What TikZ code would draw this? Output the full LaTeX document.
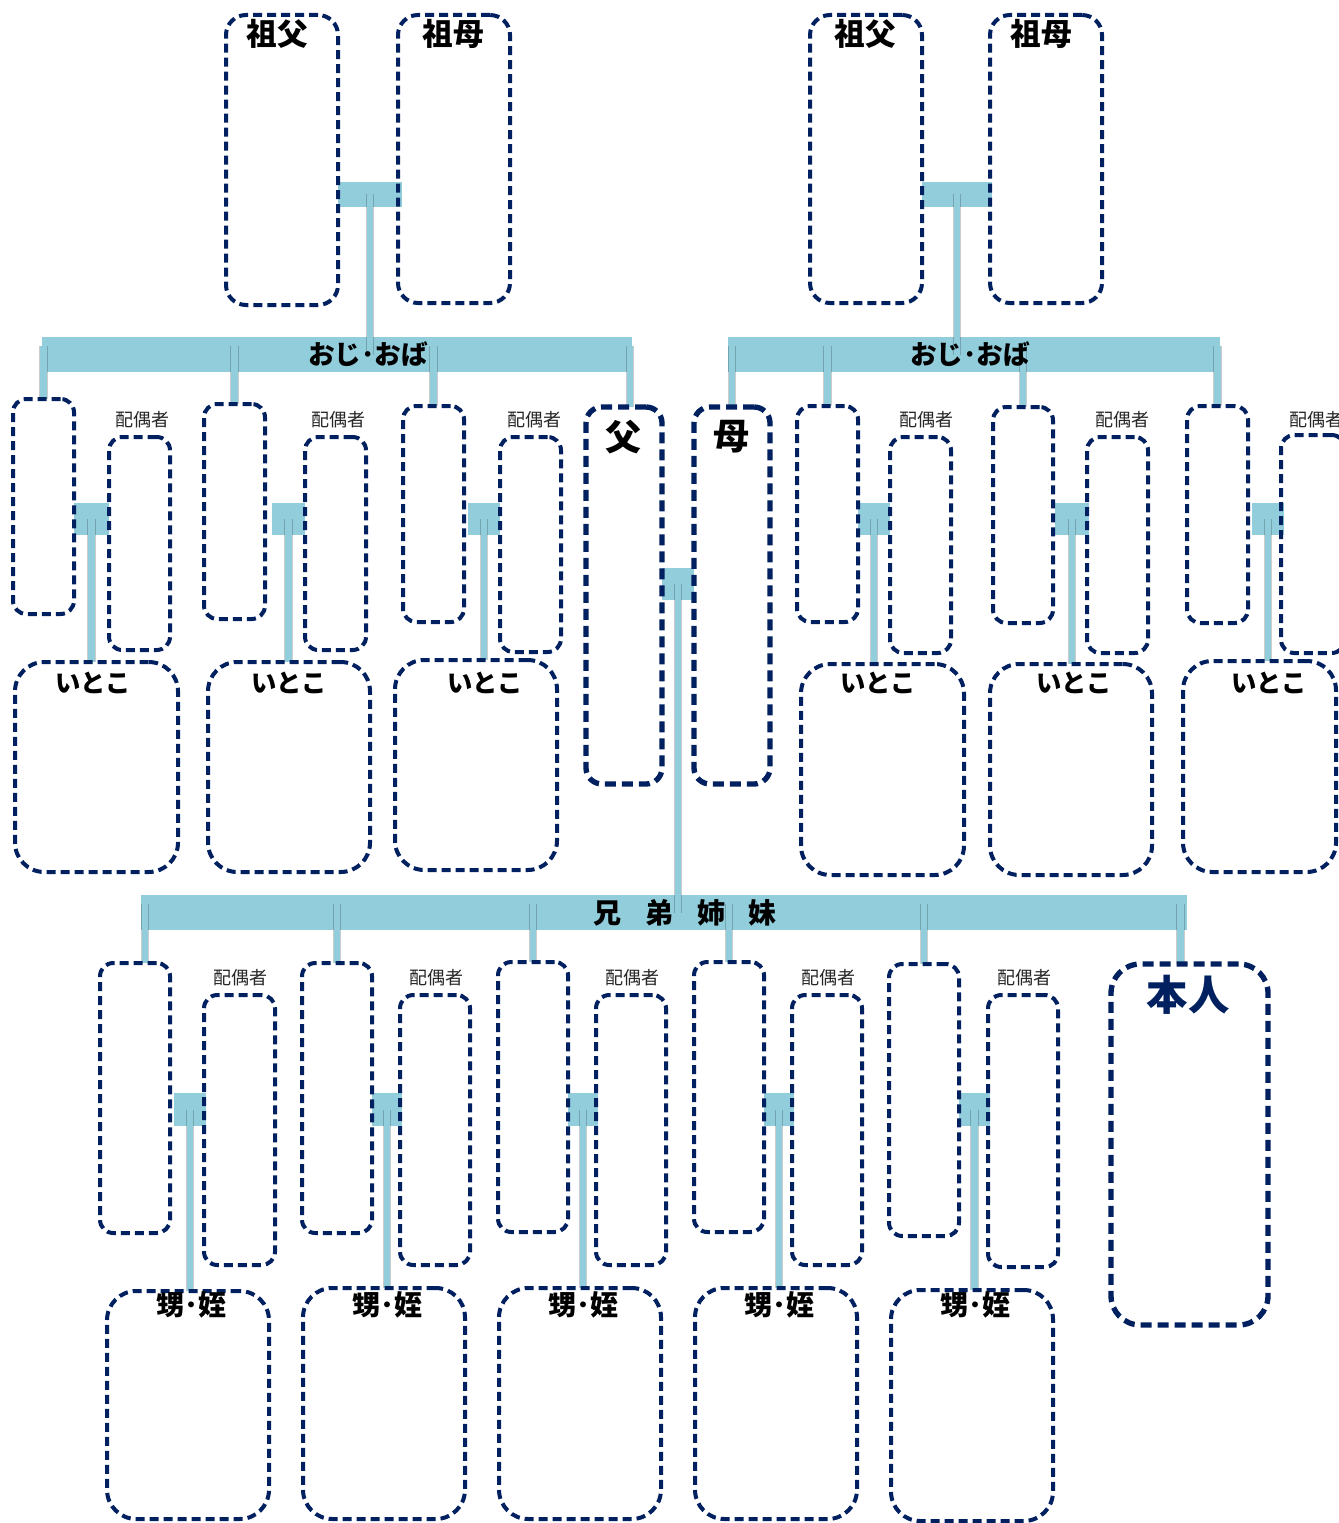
\documentclass[tikz,border=0pt]{standalone}
\usepackage{fontspec}
\setmainfont{Noto Sans CJK JP}
\usetikzlibrary{fit}
\definecolor{framenavy}{RGB}{0,32,96}
\definecolor{linkblue}{RGB}{146,205,220}
\pgfdeclarelayer{paper}
\pgfdeclarelayer{links}
\pgfsetlayers{paper,links,main}
\begin{document}
\begin{tikzpicture}[x=0.75pt,y=-0.75pt,
  pbox/.style={draw=framenavy, line width=3pt, dash pattern=on 6.75pt off 3.75pt,
               rounded corners=10pt, inner sep=0pt, outer sep=0pt},
  gpbox/.style={pbox, rounded corners=15pt},
  kidbox/.style={pbox, rounded corners=22pt},
  mainbox/.style={pbox, line width=4pt, dash pattern=on 8.25pt off 4.5pt, rounded corners=12pt},
  selfbox/.style={mainbox, rounded corners=22pt},
  linkbar/.style={fill=linkblue, inner sep=0pt, outer sep=0pt},
  conn/.style={draw=linkblue, line width=5pt,
               preaction={draw=black, draw opacity=0.2, line width=6.5pt}},
  lbl/.style={inner sep=0pt, font=\bfseries\fontsize{23pt}{26pt}\selectfont},
  barlbl/.style={inner sep=0pt, font=\bfseries\fontsize{20pt}{24pt}\selectfont},
  spouselbl/.style={inner sep=0pt, text=black!85, font=\fontsize{13.5pt}{16pt}\selectfont},
  kidlbl/.style={inner sep=0pt, font=\bfseries\fontsize{19pt}{22pt}\selectfont},
  parentlbl/.style={inner sep=0pt, font=\bfseries\fontsize{27pt}{30pt}\selectfont},
  selflbl/.style={inner sep=0pt, text=framenavy, font=\bfseries\fontsize{31pt}{34pt}\selectfont}
]
\begin{pgfonlayer}{paper}
  \fill[white] (0,0) rectangle (1338,1523);
\end{pgfonlayer}
\useasboundingbox (0,0) rectangle (1338,1523);

% ---------- grandparents ----------
\node[gpbox, fit={(226,15) (338,305)}] (gfL) {};
\node[gpbox, fit={(398,15) (510,303)}] (gmL) {};
\node[gpbox, fit={(810,15) (922,303)}] (gfR) {};
\node[gpbox, fit={(990,15) (1102,303)}] (gmR) {};

% ---------- uncles / aunts, spouses, cousins (father's side) ----------
\node[pbox, fit={(13,399) (74,614)}] (u1) {};
\node[pbox, fit={(204,404) (265,619)}] (u2) {};
\node[pbox, fit={(403,406) (464,622)}] (u3) {};
\node[pbox, fit={(109,437) (170,650)}] (s1) {};
\node[pbox, fit={(305,437) (366,650)}] (s2) {};
\node[pbox, fit={(500,437) (561,652)}] (s3) {};
\node[kidbox, fit={(15,662) (178,872)}] (c1) {};
\node[kidbox, fit={(208,662) (370,872)}] (c2) {};
\node[kidbox, fit={(395,660) (557,870)}] (c3) {};

% ---------- parents ----------
\node[mainbox, fit={(586,407) (662,784)}] (fa) {};
\node[mainbox, fit={(694,407) (770,784)}] (mo) {};

% ---------- uncles / aunts, spouses, cousins (mother's side) ----------
\node[pbox, fit={(797,406) (858,622)}] (u4) {};
\node[pbox, fit={(993,407) (1053,623)}] (u5) {};
\node[pbox, fit={(1187,406) (1248,623)}] (u6) {};
\node[pbox, fit={(890,437) (951,653)}] (s4) {};
\node[pbox, fit={(1087,437) (1148,653)}] (s5) {};
\node[pbox, fit={(1281,435) (1345,653)}] (s6) {};
\node[kidbox, fit={(801,664) (964,875)}] (c4) {};
\node[kidbox, fit={(990,664) (1152,875)}] (c5) {};
\node[kidbox, fit={(1183,661) (1336,872)}] (c6) {};

% ---------- siblings, spouses, nephews / nieces ----------
\node[pbox, fit={(100,963) (170,1233)}] (b1) {};
\node[pbox, fit={(302,963) (372,1233)}] (b2) {};
\node[pbox, fit={(498,962) (568,1232)}] (b3) {};
\node[pbox, fit={(694,962) (764,1232)}] (b4) {};
\node[pbox, fit={(889,964) (959,1236)}] (b5) {};
\node[pbox, fit={(204,995) (275,1265)}] (t1) {};
\node[pbox, fit={(400,995) (470,1265)}] (t2) {};
\node[pbox, fit={(596,995) (666,1265)}] (t3) {};
\node[pbox, fit={(792,995) (862,1265)}] (t4) {};
\node[pbox, fit={(988,995) (1058,1267)}] (t5) {};
\node[kidbox, fit={(107,1291) (269,1519)}] (n1) {};
\node[kidbox, fit={(303,1288) (465,1519)}] (n2) {};
\node[kidbox, fit={(499,1288) (661,1519)}] (n3) {};
\node[kidbox, fit={(695,1288) (857,1519)}] (n4) {};
\node[kidbox, fit={(891,1290) (1053,1521)}] (n5) {};
\node[selfbox, fit={(1111,964) (1268,1325)}] (me) {};

% ---------- bars, couple links and lines ----------
\begin{pgfonlayer}{links}
  \node[linkbar, fit={(42,337) (632,372)}] (barL) {};
  \node[linkbar, fit={(728,337) (1220,372)}] (barR) {};
  \node[linkbar, fit={(141,895) (1187,930)}] (barS) {};
  \coordinate (barLtop) at (0,346);
  \coordinate (barRtop) at (0,346);
  \coordinate (barStop) at (0,904);

  \node[linkbar, fit={(338,182) (402,207)}] (kGL) {};
  \node[linkbar, fit={(922,182) (992,207)}] (kGR) {};
  \node[linkbar, fit={(74,503) (109,535)}] (k1) {};
  \node[linkbar, fit={(272,503) (305,535)}] (k2) {};
  \node[linkbar, fit={(468,503) (500,535)}] (k3) {};
  \node[linkbar, fit={(662,568) (694,600)}] (kFM) {};
  \node[linkbar, fit={(858,503) (890,535)}] (k4) {};
  \node[linkbar, fit={(1055,503) (1089,535)}] (k5) {};
  \node[linkbar, fit={(1252,503) (1284,535)}] (k6) {};
  \node[linkbar, fit={(174,1093) (206,1126)}] (m1) {};
  \node[linkbar, fit={(372,1093) (402,1126)}] (m2) {};
  \node[linkbar, fit={(568,1093) (598,1126)}] (m3) {};
  \node[linkbar, fit={(764,1093) (794,1126)}] (m4) {};
  \node[linkbar, fit={(959,1093) (990,1126)}] (m5) {};

  % grandparents down to their children
  \draw[conn] (kGL.center) -- (kGL.center |- barL.center);
  \draw[conn] (kGR.center) -- (kGR.center |- barR.center);

  % children of the left grandparents
  \coordinate (faTop) at ([xshift=4.5pt]fa.north);
  \draw[conn] (barLtop -| u1.north) -- (u1.north);
  \draw[conn] (barLtop -| u2.north) -- (u2.north);
  \draw[conn] (barLtop -| u3.north) -- (u3.north);
  \draw[conn] (barLtop -| faTop) -- (faTop);

  % children of the right grandparents
  \draw[conn] (barRtop -| mo.north) -- (mo.north);
  \draw[conn] (barRtop -| u4.north) -- (u4.north);
  \draw[conn] (barRtop -| u5.north) -- (u5.north);
  \draw[conn] (barRtop -| u6.north) -- (u6.north);

  % couples down to cousins
  \draw[conn] (k1.center) -- (k1.center |- c1.north);
  \draw[conn] (k2.center) -- (k2.center |- c2.north);
  \draw[conn] (k3.center) -- (k3.center |- c3.north);
  \draw[conn] (k4.center) -- (k4.center |- c4.north);
  \draw[conn] (k5.center) -- (k5.center |- c5.north);
  \draw[conn] (k6.center) -- (k6.center |- c6.north);

  % parents down to the siblings' bar
  \draw[conn] (kFM.center) -- (kFM.center |- barS.center);

  % siblings and self
  \coordinate (b1Top) at ([xshift=7.5pt]b1.north);
  \coordinate (meTop) at ([xshift=-7pt]me.north);
  \draw[conn] (barStop -| b1Top) -- (b1Top);
  \draw[conn] (barStop -| b2.north) -- (b2.north);
  \draw[conn] (barStop -| b3.north) -- (b3.north);
  \draw[conn] (barStop -| b4.north) -- (b4.north);
  \draw[conn] (barStop -| b5.north) -- (b5.north);
  \draw[conn] (barStop -| meTop) -- (meTop);

  % siblings' couples down to nephews / nieces
  \draw[conn] (m1.center) -- (m1.center |- n1.north);
  \draw[conn] (m2.center) -- (m2.center |- n2.north);
  \draw[conn] (m3.center) -- (m3.center |- n3.north);
  \draw[conn] (m4.center) -- (m4.center |- n4.north);
  \draw[conn] (m5.center) -- (m5.center |- n5.north);
\end{pgfonlayer}

% ---------- labels ----------
\node[lbl] (tgfL) at (277,34) {祖父};
\node[lbl] (tgmL) at (453,34) {祖母};
\node[lbl] (tgfR) at (865,34) {祖父};
\node[lbl] (tgmR) at (1041,34) {祖母};

\node[barlbl] (tbarL) at (368,354) {おじ･おば};
\node[barlbl] (tbarR) at (970,354) {おじ･おば};
\node[barlbl, font=\bfseries\fontsize{21pt}{24pt}\selectfont] (tbarS) at (685,913)
  {兄\hspace{18pt}弟\hspace{18pt}姉\hspace{18pt}妹};

\node[spouselbl] (ts1) at (142,420) {配偶者};
\node[spouselbl] (ts2) at (338,420) {配偶者};
\node[spouselbl] (ts3) at (534,420) {配偶者};
\node[spouselbl] (ts4) at (926,420) {配偶者};
\node[spouselbl] (ts5) at (1122,420) {配偶者};
\node[spouselbl] (ts6) at (1316,420) {配偶者};
\node[spouselbl] (tt1) at (240,978) {配偶者};
\node[spouselbl] (tt2) at (436,978) {配偶者};
\node[spouselbl] (tt3) at (632,978) {配偶者};
\node[spouselbl] (tt4) at (828,978) {配偶者};
\node[spouselbl] (tt5) at (1024,978) {配偶者};

\node[kidlbl] (tc1) at (93,683) {いとこ};
\node[kidlbl] (tc2) at (289,683) {いとこ};
\node[kidlbl] (tc3) at (485,683) {いとこ};
\node[kidlbl] (tc4) at (878,683) {いとこ};
\node[kidlbl] (tc5) at (1074,683) {いとこ};
\node[kidlbl] (tc6) at (1269,683) {いとこ};

\node[parentlbl] (tfa) at (623,437) {父};
\node[parentlbl] (tmo) at (731,437) {母};

\node[kidlbl, font=\bfseries\fontsize{21pt}{24pt}\selectfont] (tn1) at (191,1305) {甥･姪};
\node[kidlbl, font=\bfseries\fontsize{21pt}{24pt}\selectfont] (tn2) at (387,1305) {甥･姪};
\node[kidlbl, font=\bfseries\fontsize{21pt}{24pt}\selectfont] (tn3) at (583,1305) {甥･姪};
\node[kidlbl, font=\bfseries\fontsize{21pt}{24pt}\selectfont] (tn4) at (779,1305) {甥･姪};
\node[kidlbl, font=\bfseries\fontsize{21pt}{24pt}\selectfont] (tn5) at (975,1305) {甥･姪};

\node[selflbl] (tme) at (1188,995) {本人};
\end{tikzpicture}
\end{document}
